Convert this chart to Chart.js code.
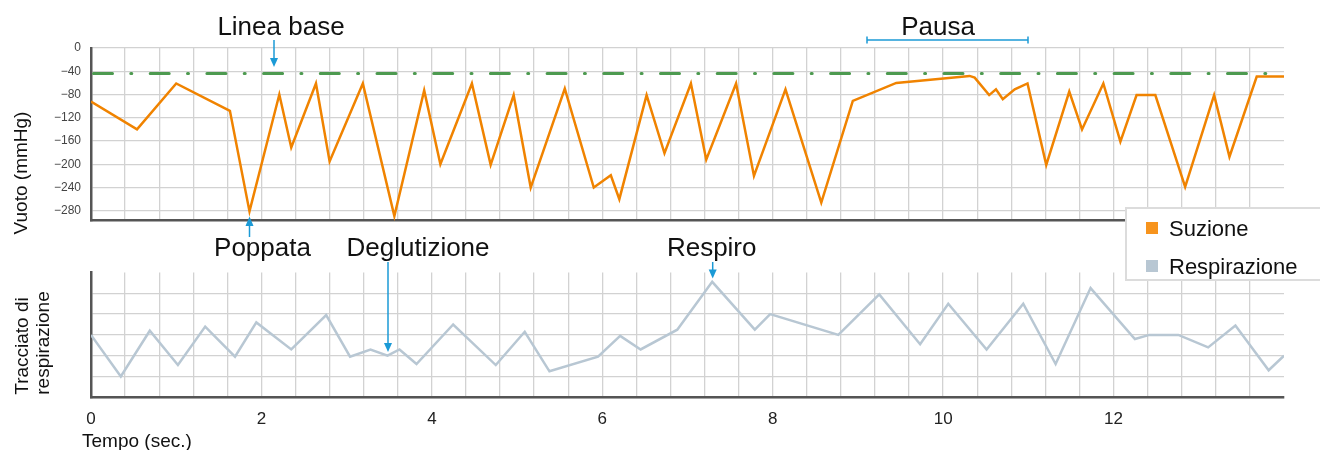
<!DOCTYPE html>
<html lang="it">
<head>
    <meta charset="UTF-8">
    <title>Suzione e respirazione</title>
    <script src="https://cdn.jsdelivr.net/npm/chart.js@4.4.1/dist/chart.umd.min.js"></script>
    <style>
        body {
            margin: 0;
            background: #fff;
            font-family: "Liberation Sans", Arial, sans-serif;
        }
        #wrap {
            position: relative;
            width: 1320px;
            height: 450px;
            overflow: hidden;
        }
        canvas {
            position: absolute;
            left: 0;
        }
        #suction { top: 0; }
        #breath { top: 250px; }
        .note {
            position: absolute;
            font-size: 26px;
            line-height: 1;
            color: #111;
            white-space: nowrap;
            transform: translate(-50%, -50%);
        }
        .axis-title {
            position: absolute;
            font-size: 19px;
            line-height: 1;
            color: #111;
            white-space: nowrap;
            transform: translate(-50%, -50%) rotate(-90deg);
        }
        #arrows {
            position: absolute;
            left: 0;
            top: 0;
        }
        #legend {
            position: absolute;
            left: 1125px;
            top: 207px;
            width: 200px;
            height: 74px;
            background: #fff;
            border: 2px solid #dcdcdc;
            box-sizing: border-box;
        }
        .item {
            position: absolute;
            left: 19px;
            font-size: 22px;
            line-height: 1;
            color: #111;
            white-space: nowrap;
        }
        .item span {
            display: inline-block;
            width: 12px;
            height: 12px;
            margin-right: 11px;
            vertical-align: 2px;
        }
    </style>
</head>
<body>
<div id="wrap">
    <canvas id="suction" width="1320" height="240"></canvas>
    <canvas id="breath" width="1320" height="200"></canvas>

    <svg id="arrows" width="1320" height="450">
        <g stroke="#1b9ad6" stroke-width="1.5" fill="#1b9ad6">
            <!-- Linea base -->
            <line x1="274" y1="40" x2="274" y2="60" />
            <polygon points="270,58 278,58 274,67" stroke="none" />
            <!-- Pausa -->
            <line x1="867" y1="40" x2="1028" y2="40" />
            <line x1="867" y1="36.5" x2="867" y2="43.5" />
            <line x1="1028" y1="36.5" x2="1028" y2="43.5" />
            <!-- Poppata -->
            <line x1="249.5" y1="237" x2="249.5" y2="224" />
            <polygon points="245.5,226 253.5,226 249.5,216.5" stroke="none" />
            <!-- Deglutizione -->
            <line x1="388" y1="262" x2="388" y2="345" />
            <polygon points="384,343 392,343 388,352" stroke="none" />
            <!-- Respiro -->
            <line x1="712.7" y1="262" x2="712.7" y2="271" />
            <polygon points="708.7,269.5 716.7,269.5 712.7,278.5" stroke="none" />
        </g>
    </svg>

    <div class="note" style="left:281px; top:26px;">Linea base</div>
    <div class="note" style="left:938px; top:26px;">Pausa</div>
    <div class="note" style="left:262.5px; top:247px;">Poppata</div>
    <div class="note" style="left:418px; top:247px;">Deglutizione</div>
    <div class="note" style="left:711.7px; top:247px;">Respiro</div>

    <div class="axis-title" style="left:20px; top:173px;">Vuoto (mmHg)</div>
    <div class="axis-title" style="left:21px; top:346px;">Tracciato di</div>
    <div class="axis-title" style="left:42px; top:343px;">respirazione</div>
    <div style="position:absolute; left:82px; top:431px; font-size:19px; line-height:1; color:#111;">Tempo (sec.)</div>

    <div id="legend">
        <div class="item" style="top:9px;"><span style="background:#f7941d;"></span>Suzione</div>
        <div class="item" style="top:47px;"><span style="background:#b8c7d3;"></span>Respirazione</div>
    </div>
</div>

<script>
    // suzione (mmHg), tempo in secondi
    const suctionTime = [0, 0.54, 1.0, 1.63, 1.86, 2.21, 2.35, 2.64, 2.80, 3.19,
        3.56, 3.91, 4.10, 4.47, 4.69, 4.96, 5.16, 5.56, 5.90, 6.10,
        6.20, 6.52, 6.73, 7.04, 7.22, 7.57, 7.78, 8.15, 8.57, 8.94,
        9.45, 10.31, 10.37, 10.54, 10.62, 10.70, 10.84, 10.99, 11.21, 11.48,
        11.63, 11.88, 12.08, 12.27, 12.49, 12.84, 13.18, 13.36, 13.68, 14.0];
    const suctionValue = [-92, -140, -61, -108, -281, -80, -171, -61, -195, -61,
        -289, -73, -200, -61, -201, -81, -240, -70, -240, -219,
        -260, -81, -181, -61, -192, -61, -220, -71, -266, -91,
        -60, -48, -51, -81, -71, -88, -71, -61, -201, -75,
        -140, -61, -161, -81, -81, -239, -81, -187, -49, -49];
    const baselineTime = [0, 14];
    const baselineValue = [-44, -44];

    // tracciato di respirazione (unità arbitrarie)
    const breathTime = [0, 0.35, 0.69, 1.02, 1.34, 1.69, 1.94, 2.35, 2.76, 3.04,
        3.28, 3.48, 3.62, 3.82, 4.25, 4.75, 5.09, 5.38, 5.95, 6.21,
        6.45, 6.88, 7.29, 7.79, 7.97, 8.77, 9.25, 9.73, 10.06, 10.51,
        10.94, 11.32, 11.73, 12.25, 12.42, 12.76, 13.11, 13.43, 13.82, 14.0];
    const breathValue = [3.0, 1.0, 3.2, 1.55, 3.4, 1.95, 3.6, 2.3, 3.95, 1.95,
        2.3, 2.0, 2.3, 1.6, 3.5, 1.55, 3.15, 1.25, 1.95, 2.95,
        2.3, 3.25, 5.55, 3.25, 4.0, 3.0, 4.95, 2.55, 4.5, 2.3,
        4.5, 1.6, 5.25, 2.8, 3.0, 3.0, 2.4, 3.45, 1.3, 2.0];

    const yTicks = [0, -40, -80, -120, -160, -200, -240, -280];
    const xTicks = [0, 2, 4, 6, 8, 10, 12];

    Chart.defaults.font.family = '"Liberation Sans", Arial, sans-serif';
    Chart.defaults.color = '#333';

    const gridColor = '#d2d2d2';
    const axisColor = '#555';

    function points(xs, ys) {
        return xs.map((x, i) => ({ x: x, y: ys[i] }));
    }

    // vertical grid every 0.4 s, no line at the right edge
    function timeGrid(scale) {
        const t = [];
        for (let i = 0; i <= 35; i++) t.push({ value: Math.round(i * 4) / 10 });
        scale.ticks = t;
    }
    function timeGridColor(ctx) {
        return ctx.tick && ctx.tick.value >= 13.99 ? 'rgba(0,0,0,0)' : gridColor;
    }

    new Chart(document.getElementById('suction'), {
        type: 'line',
        data: {
            datasets: [
                {
                    label: 'Linea base',
                    data: points(baselineTime, baselineValue),
                    borderColor: '#4d9a50',
                    borderWidth: 3,
                    borderDash: [19, 18.3, 1, 18.4],
                    borderDashOffset: 54.2,
                    borderCapStyle: 'round',
                    pointRadius: 0
                },
                {
                    label: 'Suzione',
                    data: points(suctionTime, suctionValue),
                    borderColor: '#f08300',
                    borderWidth: 2.5,
                    pointRadius: 0,
                    tension: 0
                }
            ]
        },
        options: {
            responsive: false,
            animation: false,
            layout: { padding: { top: 48, right: 36, bottom: 19.3, left: 0 } },
            plugins: { legend: { display: false }, tooltip: { enabled: false } },
            scales: {
                x: {
                    type: 'linear',
                    min: 0,
                    max: 14,
                    afterBuildTicks: timeGrid,
                    afterFit: s => { s.height = 0; },
                    ticks: { display: false },
                    grid: { color: timeGridColor, lineWidth: 1.3, drawTicks: false },
                    border: { color: axisColor, width: 2.5 }
                },
                y: {
                    min: -297,
                    max: 0,
                    afterBuildTicks: s => {
                        const t = [];
                        for (let v = 0; v >= -280; v -= 20) t.push({ value: v });
                        s.ticks = t;
                    },
                    afterFit: s => { s.width = 91; },
                    ticks: {
                        padding: 10,
                        font: { size: 12 },
                        color: '#444',
                        callback: v => yTicks.includes(v) ? String(v).replace('-', '\u2212') : ''
                    },
                    grid: { color: gridColor, lineWidth: 1.3, drawTicks: false },
                    border: { color: axisColor, width: 2.5 }
                }
            }
        }
    });

    new Chart(document.getElementById('breath'), {
        type: 'line',
        data: {
            datasets: [
                {
                    label: 'Respirazione',
                    data: points(breathTime, breathValue),
                    borderColor: '#b8c7d3',
                    borderWidth: 2.5,
                    pointRadius: 0,
                    tension: 0
                }
            ]
        },
        options: {
            responsive: false,
            animation: false,
            layout: { padding: { top: 22.5, right: 36, bottom: 0, left: 0 } },
            plugins: { legend: { display: false }, tooltip: { enabled: false } },
            scales: {
                x: {
                    type: 'linear',
                    min: 0,
                    max: 14,
                    afterBuildTicks: timeGrid,
                    afterFit: s => { s.height = 52.7; },
                    ticks: {
                        padding: 12,
                        maxRotation: 0,
                        autoSkip: false,
                        font: { size: 17 },
                        color: '#222',
                        callback: v => xTicks.includes(Math.round(v * 10) / 10) ? String(Math.round(v)) : ''
                    },
                    grid: { color: timeGridColor, lineWidth: 1.3, drawTicks: false },
                    border: { color: axisColor, width: 2.5 }
                },
                y: {
                    min: 0,
                    max: 6,
                    afterBuildTicks: s => {
                        s.ticks = [0, 1, 2, 3, 4, 5, 6].map(v => ({ value: v }));
                    },
                    afterFit: s => { s.width = 91; },
                    ticks: { display: false },
                    grid: {
                        color: ctx => ctx.tick && ctx.tick.value === 6 ? 'rgba(0,0,0,0)' : gridColor,
                        lineWidth: 1.3,
                        drawTicks: false
                    },
                    border: { color: axisColor, width: 2.5 }
                }
            }
        }
    });
</script>
</body>
</html>
